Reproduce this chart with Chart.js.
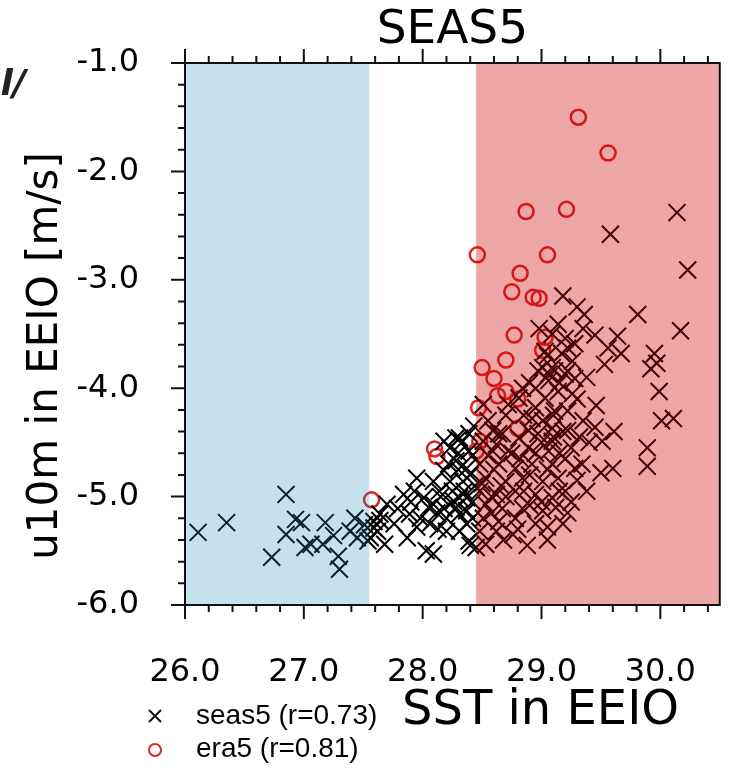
<!DOCTYPE html>
<html>
<head>
<meta charset="utf-8">
<script src="https://cdn.jsdelivr.net/npm/chart.js@4"></script>
<style>
  html, body { margin: 0; padding: 0; background: #fff; }
</style>
</head>
<body>
<canvas id="scatterChart" width="738" height="768"></canvas>
<script>
// SEAS5 member SST (x) and u10m (y) in EEIO
const seasSst = [
  26.11, 26.35, 26.85, 26.73, 26.85, 26.93, 26.98, 27.01, 27.06, 27.18, 27.25, 27.16, 27.29, 27.30,
  27.43, 27.39, 27.45, 27.54, 27.51, 27.59, 27.64,
  28.28, 28.23, 28.28, 28.18, 28.23, 28.34, 28.37, 28.26, 28.14, 28.09, 28.01, 27.93, 27.84, 27.79,
  27.70, 27.64, 27.59, 27.76, 27.89, 27.98, 28.06, 28.20, 28.31, 28.37, 28.20, 28.39, 28.31, 27.87,
  27.68, 28.03, 28.09, 27.62, 27.56, 27.95, 28.09, 28.18, 28.31, 28.37, 28.39, 28.18, 28.37, 28.42,
  28.44, 28.30, 28.42, 28.25, 28.12, 27.90, 28.40, 28.31, 28.39,
  28.30, 28.40, 28.22, 28.35, 28.15, 28.28, 28.42, 28.05, 27.95, 28.13, 28.33, 28.43,
  28.51, 28.64, 28.81, 28.97, 29.09, 28.59, 28.72, 28.89, 29.06, 28.48, 28.64, 28.78, 28.92, 29.09,
  28.53, 28.70, 28.84, 29.01, 29.14, 28.48, 28.62, 28.78, 28.95, 29.09, 28.53, 28.67, 28.84, 29.01,
  28.51, 28.64, 28.78, 28.48, 28.62, 28.76, 28.53, 28.45,
  28.55, 28.70, 28.85, 29.00, 28.75, 28.90, 28.60, 28.70, 28.85, 29.00, 28.58, 28.90, 28.68, 28.55,
  28.82, 29.05, 29.20, 29.10, 28.92, 28.72, 28.62, 28.50, 28.66, 28.95, 29.18, 29.05, 28.90, 29.15,
  29.35, 29.30, 28.98, 29.38, 29.40, 29.38, 28.80, 28.88, 28.58,
  29.18, 29.14, 29.09, 29.20, 29.28, 29.03, 29.17, 29.26, 29.09, 28.97, 29.20, 29.28, 29.06, 28.95,
  29.14, 29.26, 29.03, 28.84, 28.81, 28.51, 28.95, 29.11, 29.22, 29.01, 29.09, 28.89, 29.22, 28.59,
  28.67,
  30.14, 29.58, 30.23, 29.36, 29.81, 30.17, 29.45, 29.64, 29.56, 29.67, 29.95, 29.97, 29.22, 29.53,
  29.92, 29.01, 29.11, 29.22, 29.06, 29.99, 29.46, 30.01, 30.11, 29.45, 29.61, 29.51, 29.89, 29.89,
  29.34, 29.50, 29.60, 29.28,
  29.30, 29.32, 29.25, 29.15, 29.30, 29.20, 29.25, 29.12, 29.18, 29.05, 29.35, 29.15, 29.22, 28.95,
  29.05, 29.10
];
const seasU10 = [
  -5.33, -5.24, -4.98, -5.56, -5.35, -5.21, -5.24, -5.47, -5.44, -5.24, -5.36, -5.44, -5.55, -5.67,
  -5.20, -5.32, -5.38, -5.41, -5.26, -5.29, -5.22,
  -4.46, -4.55, -4.67, -4.76, -4.86, -4.86, -5.01, -5.04, -4.95, -5.07, -5.01, -4.95, -4.98, -5.11,
  -5.07, -5.16, -5.23, -5.25, -5.16, -5.20, -5.25, -5.20, -5.16, -5.25, -5.32, -5.41, -5.32, -5.38,
  -5.44, -5.50, -5.53, -5.32, -5.38, -4.83, -4.86, -5.11, -5.01, -4.74, -4.58, -4.49, -5.13, -4.62,
  -4.90, -4.60, -5.20, -4.95, -5.15, -5.05, -5.45, -4.46, -4.42,
  -4.75, -4.80, -4.70, -4.95, -5.00, -5.10, -5.05, -5.10, -5.28, -5.30, -4.50, -4.35,
  -4.49, -4.42, -4.46, -4.42, -4.49, -4.58, -4.58, -4.55, -4.58, -4.70, -4.70, -4.74, -4.70, -4.70,
  -4.83, -4.86, -4.83, -4.86, -4.83, -4.95, -4.98, -4.95, -4.98, -5.01, -5.07, -5.11, -5.11, -5.13,
  -5.20, -5.23, -5.20, -5.32, -5.32, -5.35, -5.44, -5.47,
  -4.30, -4.25, -4.25, -4.50, -4.60, -4.80, -4.75, -5.00, -4.95, -5.05, -5.15, -5.08, -5.40, -4.62,
  -4.65, -4.75, -4.65, -4.45, -4.28, -4.15, -4.52, -4.88, -4.90, -4.60, -4.40, -3.70, -3.95, -3.95,
  -3.45, -3.25, -3.45, -3.90, -4.50, -4.95, -5.30, -5.45, -5.00,
  -3.15, -3.41, -3.50, -3.54, -3.59, -3.66, -3.68, -3.75, -3.81, -3.84, -3.87, -3.91, -3.93, -4.00,
  -4.03, -4.05, -4.09, -4.00, -4.09, -4.15, -4.18, -4.21, -4.21, -4.30, -4.37, -4.39, -4.39, -4.39,
  -4.42,
  -2.38, -2.58, -2.91, -3.32, -3.32, -3.47, -3.51, -3.52, -3.63, -3.68, -3.68, -3.77, -3.63, -3.78,
  -3.82, -3.81, -3.84, -3.84, -3.87, -4.03, -4.16, -4.30, -4.28, -4.36, -4.40, -4.49, -4.55, -4.72,
  -4.70, -4.78, -4.74, -4.74,
  -4.10, -4.45, -4.55, -4.60, -4.85, -4.95, -5.05, -5.10, -5.25, -5.28, -4.30, -4.95, -5.15, -5.25,
  -5.40, -4.25
];

// ERA5 SST (x) and u10m (y) in EEIO
const eraSst = [
  29.31, 29.56, 28.87, 29.21, 28.46, 29.05, 28.82, 28.75, 28.93, 28.98, 28.77, 29.03, 29.01,
  28.70, 28.50, 28.60, 28.70, 28.63, 28.80, 28.47, 28.80, 28.10, 28.12, 28.48, 28.45, 27.57
];
const eraU10 = [
  -1.50, -1.83, -2.37, -2.35, -2.77, -2.77, -2.94, -3.11, -3.16, -3.17, -3.51, -3.53, -3.65,
  -3.74, -3.81, -3.91, -4.03, -4.07, -4.10, -4.18, -4.37, -4.56, -4.63, -4.49, -4.58, -5.03
];

// axes
const xTicks = [26, 27, 28, 29, 30];
const yTicks = [-6, -5, -4, -3, -2, -1];
const xRange = [26, 30.5];
const yRange = [-6, -1];
// cold / warm SST bands
const coldMax = 27.55;
const warmMin = 28.45;

const legendItems = ["seas5 (r=0.73)", "era5 (r=0.81)"];

function toPoints(xs, ys) {
  return xs.map((v, i) => ({ x: v, y: ys[i] }));
}

// bands, frame, tick marks and free text
const decorPlugin = {
  id: "decor",
  afterDatasetsDraw(chart) {
    const { ctx, chartArea: a, scales } = chart;
    const x = scales.x;
    const y = scales.y;
    ctx.save();

    // shading drawn on top of the markers (like the original)
    const x0 = x.getPixelForValue(xRange[0]);
    const xc = x.getPixelForValue(coldMax);
    const xw = x.getPixelForValue(warmMin);
    const x1 = x.getPixelForValue(xRange[1]);
    ctx.fillStyle = "rgba(23,139,179,0.25)";
    ctx.fillRect(x0, a.top, xc - x0, a.bottom - a.top);
    ctx.fillStyle = "rgba(200,0,0,0.35)";
    ctx.fillRect(xw, a.top, x1 - xw, a.bottom - a.top);

    // frame
    ctx.strokeStyle = "#111";
    ctx.lineWidth = 2;
    ctx.strokeRect(a.left, a.top, a.right - a.left, a.bottom - a.top);

    // x tick marks (bottom + top), every 0.2
    ctx.beginPath();
    for (let i = 0; i <= 22; i++) {
      const px = x.getPixelForValue(xRange[0] + i * 0.2);
      const len = i % 5 === 0 ? 14 : 7;
      ctx.moveTo(px, a.bottom);
      ctx.lineTo(px, a.bottom + len);
      ctx.moveTo(px, a.top);
      ctx.lineTo(px, a.top - len);
    }
    // y tick marks (left), every 0.2
    for (let i = 0; i <= 25; i++) {
      const py = y.getPixelForValue(yRange[0] + i * 0.2);
      const len = i % 5 === 0 ? 14 : 7;
      ctx.moveTo(a.left, py);
      ctx.lineTo(a.left - len, py);
    }
    ctx.stroke();

    ctx.fillStyle = "#000";
    // y axis title
    ctx.save();
    ctx.translate(46, 356);
    ctx.rotate(-Math.PI / 2);
    ctx.font = "42px 'DejaVu Sans'";
    ctx.textAlign = "center";
    ctx.textBaseline = "middle";
    ctx.fillText("u10m in EEIO [m/s]", 0, 0);
    ctx.restore();

    // x axis title
    ctx.font = "48px 'DejaVu Sans'";
    ctx.textAlign = "left";
    ctx.textBaseline = "middle";
    ctx.fillText("SST in EEIO", 402, 712);

    // legend
    ctx.font = "28px 'Liberation Sans'";
    ctx.fillText(legendItems[0], 196, 716);
    ctx.fillText(legendItems[1], 196, 749);
    ctx.lineWidth = 2;
    ctx.strokeStyle = "#111";
    ctx.beginPath();
    ctx.moveTo(149, 710); ctx.lineTo(161, 722);
    ctx.moveTo(161, 710); ctx.lineTo(149, 722);
    ctx.stroke();
    ctx.strokeStyle = "#d42a2a";
    ctx.beginPath();
    ctx.arc(155, 750, 6, 0, Math.PI * 2);
    ctx.stroke();

    // cut-off label of the neighbouring panel
    ctx.fillStyle = "#222";
    ctx.font = "italic bold 36px 'DejaVu Sans'";
    ctx.textAlign = "right";
    ctx.textBaseline = "alphabetic";
    ctx.fillText("el/", 26, 95);

    ctx.restore();
  },
};

const tickFont = { family: "DejaVu Sans", size: 32 };

const chart = new Chart(document.getElementById("scatterChart").getContext("2d"), {
  type: "scatter",
  data: {
    datasets: [
      {
        label: legendItems[0],
        data: toPoints(seasSst, seasU10),
        pointStyle: "crossRot",
        pointRadius: 12,
        borderColor: "#000",
        borderWidth: 2,
      },
      {
        label: legendItems[1],
        data: toPoints(eraSst, eraU10),
        pointStyle: "circle",
        pointRadius: 7.5,
        borderColor: "#dd2222",
        backgroundColor: "rgba(0,0,0,0)",
        borderWidth: 2.5,
      },
    ],
  },
  options: {
    responsive: false,
    animation: false,
    events: [],
    layout: { padding: { left: 0, right: 11, top: 0, bottom: 0 } },
    plugins: {
      legend: { display: false },
      tooltip: { enabled: false },
      title: {
        display: true,
        text: "SEAS5",
        fullSize: false,
        color: "#000",
        font: { family: "DejaVu Sans", size: 47, weight: "normal", lineHeight: 1 },
        padding: { top: 7, bottom: 9 },
      },
    },
    scales: {
      x: {
        type: "linear",
        min: xRange[0],
        max: xRange[1],
        grid: { display: false },
        border: { display: false },
        afterBuildTicks: (s) => { s.ticks = xTicks.map((v) => ({ value: v })); },
        afterFit: (s) => { s.height = 163; },
        ticks: {
          color: "#000",
          font: tickFont,
          padding: 40,
          maxRotation: 0,
          autoSkip: false,
          callback: (v) => Number(v).toFixed(1),
        },
      },
      y: {
        type: "linear",
        min: yRange[0],
        max: yRange[1],
        grid: { display: false },
        border: { display: false },
        afterBuildTicks: (s) => { s.ticks = yTicks.map((v) => ({ value: v })); },
        afterFit: (s) => { s.width = 185; },
        ticks: {
          color: "#000",
          font: tickFont,
          padding: 38,
          autoSkip: false,
          callback: (v) => Number(v).toFixed(1),
        },
      },
    },
  },
  plugins: [decorPlugin],
});
</script>
</body>
</html>
